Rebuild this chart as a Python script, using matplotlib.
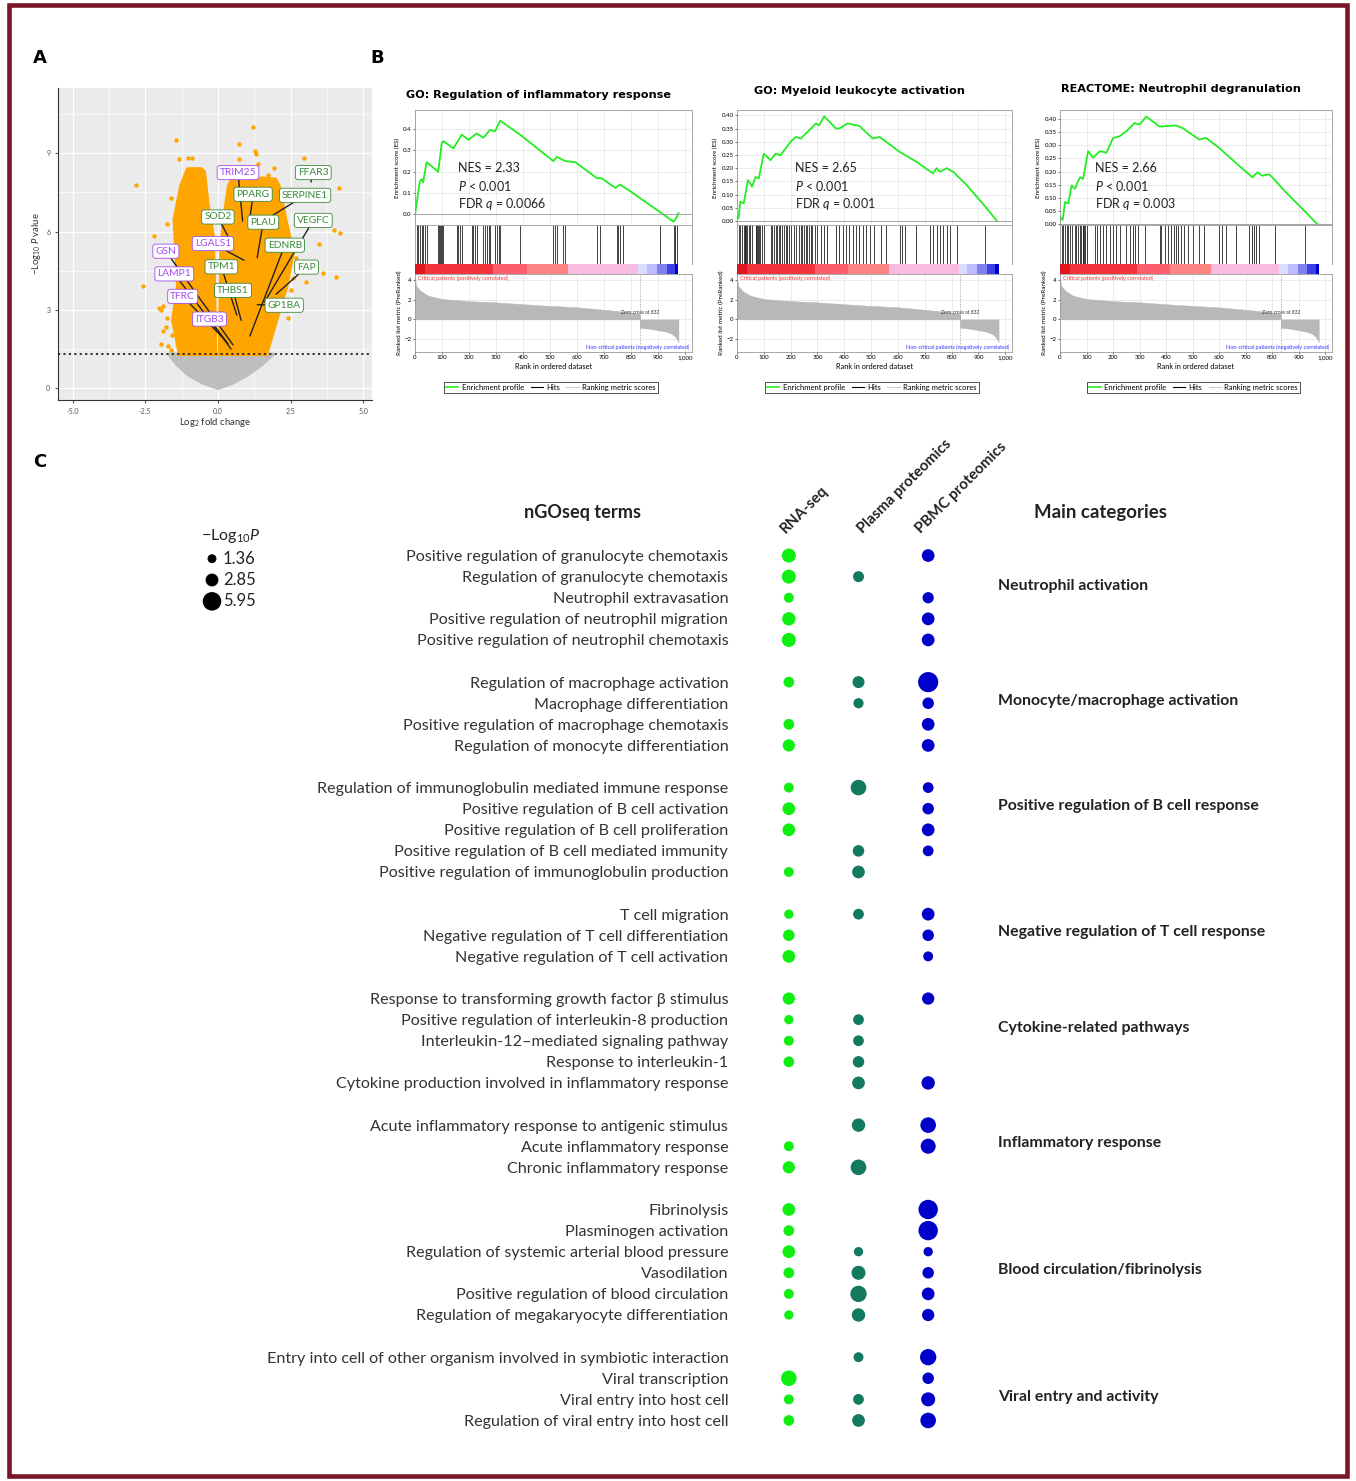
import matplotlib
matplotlib.use("Agg")
import matplotlib.pyplot as plt
from matplotlib.patches import Rectangle
from matplotlib.lines import Line2D
import numpy as np

plt.rcParams['font.family'] = ['Lato', 'DejaVu Sans']
plt.rcParams['mathtext.fontset'] = 'custom'
plt.rcParams['mathtext.rm'] = 'Lato'
plt.rcParams['mathtext.it'] = 'Lato:italic'

# ---------------- data: panel A (volcano) ----------------
left_lobe_fc = [-1.32, -1.55, -1.38, -1.44, -1.5, -1.27, -1.04, -0.58, -0.47, -0.35, -0.17, -0.12, -0.08]
left_lobe_p = [1.3, 2.62, 3.9, 5.2, 6.46, 7.75, 8.4, 8.4, 8.3, 7.1, 5.85, 3.9, 1.3]
right_lobe_fc = [0.06, 0.07, 0.1, 0.2, 0.37, 0.48, 1.0, 1.5, 1.98, 2.1, 2.33, 2.59, 2.36, 2.02, 1.67]
right_lobe_p = [1.3, 2.6, 5.2, 6.46, 7.75, 8.0, 7.9, 8.05, 8.0, 7.75, 6.46, 5.2, 3.9, 2.62, 1.3]
ns_fc = [-1.67, -1.4, -1.0, -0.5, 0.0, 0.5, 1.0, 1.5, 1.89]
ns_p = [1.3, 0.9, 0.5, 0.2, 0.0, 0.2, 0.5, 0.9, 1.3]
out_fc = [-2.82, -1.44, -1.35, -1.04, -0.89, -1.61, -1.75, -2.19, -2.57, -2.02, -1.9, -1.79,
          -1.96, -1.61, -1.58, 1.21, 0.71, 1.27, 1.32, 0.73, 1.38, 1.92, 1.73, 2.96, 4.15,
          4.2, 4.0, 3.46, 2.76, 3.63, 4.07, 3.03, 2.59, 2.36, 2.53, 2.13, 2.19, -1.96, -1.9,
          -1.75, -1.7, 2.7, 2.5, 2.4]
out_p = [7.78, 9.5, 8.77, 8.8, 8.8, 7.3, 6.3, 5.83, 3.9, 3.07, 3.14, 2.34, 1.7, 1.45, 2.05,
         9.99, 9.37, 9.09, 8.96, 8.77, 8.58, 8.45, 8.16, 8.8, 7.68, 5.95, 6.08, 5.54, 5.42,
         4.42, 4.26, 4.06, 4.23, 4.55, 3.78, 3.65, 4.16, 3.0, 2.2, 2.7, 1.6, 5.0, 3.2, 2.7]
gene_names = ['TRIM25', 'FFAR3', 'PPARG', 'SERPINE1', 'SOD2', 'PLAU', 'VEGFC', 'GSN',
              'LGALS1', 'EDNRB', 'TPM1', 'FAP', 'LAMP1', 'THBS1', 'TFRC', 'GP1BA', 'ITGB3']
gene_up = [False, True, True, True, True, True, True, False,
           False, True, True, True, False, True, False, True, False]
gene_fc = [0.85, 3.2, 1.1, 1.85, 0.4, 1.35, 1.6, 0.52, 0.9, 1.1, 0.65, 2.0, 0.35, 0.8, 0.2, 1.35, 0.45]
gene_p = [6.4, 7.9, 6.5, 6.6, 5.7, 5.0, 3.3, 1.66, 4.9, 2.0, 2.8, 3.6, 1.7, 2.6, 1.9, 3.2, 1.5]
label_fc = [0.69, 3.28, 1.21, 3.0, 0.0, 1.56, 3.28, -1.79, -0.17, 2.30, 0.12, 3.05, -1.5, 0.52, -1.21, 2.28, -0.29]
label_p = [8.26, 8.26, 7.43, 7.39, 6.56, 6.36, 6.43, 5.25, 5.54, 5.48, 4.65, 4.64, 4.38, 3.75, 3.52, 3.18, 2.65]

# ---------------- data: panel B (GSEA) ----------------
gsea_titles = ['GO: Regulation of inflammatory response', 'GO: Myeloid leukocyte activation',
               'REACTOME: Neutrophil degranulation']
gsea_nes = ['2.33', '2.65', '2.66']
gsea_fdr = ['0.0066', '0.001', '0.003']

es1_rank = [0, 6, 18, 25, 30, 43, 86, 99, 105, 142, 173, 198, 228, 253, 278, 296, 315, 389, 512,
            525, 556, 593, 673, 690, 741, 759, 796, 907, 932, 957, 969, 975]
es1_val = [0.0, 0.05, 0.155, 0.165, 0.15, 0.245, 0.2, 0.336, 0.344, 0.31, 0.374, 0.35, 0.38, 0.36,
           0.397, 0.39, 0.44, 0.374, 0.25, 0.27, 0.25, 0.245, 0.17, 0.17, 0.124, 0.14, 0.109, 0.01,
           -0.012, -0.035, -0.012, 0.006]
es2_rank = [0, 6, 12, 25, 41, 56, 69, 81, 100, 125, 144, 162, 200, 219, 237, 269, 294, 306, 325,
            369, 381, 412, 456, 506, 531, 606, 669, 731, 744, 756, 781, 806, 856, 931, 969]
es2_val = [0.016, 0.01, 0.073, 0.067, 0.155, 0.13, 0.167, 0.161, 0.255, 0.23, 0.255, 0.249, 0.30,
           0.318, 0.312, 0.343, 0.369, 0.362, 0.396, 0.35, 0.35, 0.369, 0.36, 0.312, 0.318, 0.262,
           0.224, 0.18, 0.2, 0.186, 0.2, 0.186, 0.136, 0.048, 0.0]
es3_rank = [0, 10, 19, 31, 44, 56, 75, 87, 106, 125, 150, 175, 200, 225, 250, 281, 300, 325, 375,
            437, 462, 525, 550, 600, 675, 725, 744, 762, 787, 800, 850, 925, 969]
es3_val = [0.028, 0.015, 0.084, 0.078, 0.147, 0.134, 0.178, 0.172, 0.278, 0.253, 0.278, 0.272,
           0.328, 0.335, 0.354, 0.385, 0.379, 0.41, 0.372, 0.376, 0.366, 0.322, 0.329, 0.29,
           0.222, 0.178, 0.197, 0.184, 0.19, 0.178, 0.122, 0.046, 0.0]
hits1 = [7, 12, 18, 25, 30, 37, 43, 86, 89, 92, 95, 99, 102, 155, 160, 167, 173, 210, 216, 222,
         228, 253, 259, 265, 272, 278, 296, 302, 309, 315, 389, 512, 519, 525, 548, 556, 673, 685,
         747, 753, 759, 771, 907, 957, 963, 969]
hits2 = [6, 12, 19, 25, 28, 31, 35, 38, 44, 50, 56, 69, 72, 75, 78, 81, 87, 94, 100, 125, 131,
         138, 144, 150, 156, 162, 169, 175, 181, 187, 194, 200, 212, 219, 231, 237, 244, 250, 256,
         262, 269, 275, 281, 290, 300, 312, 325, 337, 369, 381, 394, 406, 419, 431, 444, 456, 469,
         481, 494, 512, 537, 556, 606, 615, 625, 669, 719, 731, 744, 756, 769, 781, 794, 819, 925]
hits3 = [6, 12, 19, 25, 31, 38, 44, 56, 62, 69, 75, 81, 85, 88, 91, 94, 100, 131, 138, 150, 162,
         175, 187, 200, 212, 225, 250, 262, 275, 281, 294, 319, 375, 381, 394, 406, 419, 431, 437,
         444, 456, 469, 481, 500, 525, 544, 600, 612, 625, 662, 712, 725, 731, 737, 750, 812, 925]
# ranked list metric (shared by the three plots)
pos_rank = [0, 5, 20, 50, 100, 200, 300, 450, 600, 750, 832]
pos_val = [4.2, 3.4, 2.9, 2.4, 2.07, 1.85, 1.73, 1.45, 1.23, 0.85, 0.57]
neg_rank = [832, 870, 900, 930, 950, 965, 975]
neg_val = [-0.85, -0.95, -1.1, -1.25, -1.45, -1.8, -2.3]
zero_cross = 832
heat_edges = [0, 37, 290, 414, 568, 827, 858, 895, 932, 963, 975]
heat_colors = ['#e0161e', '#f2343c', '#fb5f6c', '#ff8585', '#f8bce0', '#dcdcff', '#bcbcff',
               '#7f7ff2', '#3f3fe6', '#0000cc']

# ---------------- data: panel C (dot plot) ----------------
categories = ['Neutrophil activation', 'Monocyte/macrophage activation',
              'Positive regulation of B cell response', 'Negative regulation of T cell response',
              'Cytokine-related pathways', 'Inflammatory response',
              'Blood circulation/fibrinolysis', 'Viral entry and activity']
group_sizes = [5, 4, 5, 3, 5, 3, 6, 4]
terms = [
    'Positive regulation of granulocyte chemotaxis', 'Regulation of granulocyte chemotaxis',
    'Neutrophil extravasation', 'Positive regulation of neutrophil migration',
    'Positive regulation of neutrophil chemotaxis',
    'Regulation of macrophage activation', 'Macrophage differentiation',
    'Positive regulation of macrophage chemotaxis', 'Regulation of monocyte differentiation',
    'Regulation of immunoglobulin mediated immune response', 'Positive regulation of B cell activation',
    'Positive regulation of B cell proliferation', 'Positive regulation of B cell mediated immunity',
    'Positive regulation of immunoglobulin production',
    'T cell migration', 'Negative regulation of T cell differentiation',
    'Negative regulation of T cell activation',
    'Response to transforming growth factor β stimulus', 'Positive regulation of interleukin-8 production',
    'Interleukin-12–mediated signaling pathway', 'Response to interleukin-1',
    'Cytokine production involved in inflammatory response',
    'Acute inflammatory response to antigenic stimulus', 'Acute inflammatory response',
    'Chronic inflammatory response',
    'Fibrinolysis', 'Plasminogen activation', 'Regulation of systemic arterial blood pressure',
    'Vasodilation', 'Positive regulation of blood circulation',
    'Regulation of megakaryocyte differentiation',
    'Entry into cell of other organism involved in symbiotic interaction', 'Viral transcription',
    'Viral entry into host cell', 'Regulation of viral entry into host cell']
nan = np.nan
rna_seq = [3.4, 3.4, 1.7, 3.1, 3.4, 2.0, nan, 2.0, 2.6, 1.7, 2.8, 2.8, nan, 1.7, 1.5, 2.3, 2.8,
           2.6, 1.5, 1.7, 2.0, nan, nan, 1.7, 2.6, 2.8, 2.0, 2.8, 2.0, 1.7, 1.5, nan, 4.2, 1.7, 2.0]
plasma = [nan, 2.1, nan, nan, nan, 2.5, 1.8, nan, nan, 4.2, nan, nan, 2.3, 2.8, 2.0, nan, nan,
          nan, 2.0, 2.0, 2.3, 2.8, 3.1, nan, 4.2, nan, nan, 1.5, 3.4, 4.6, 3.1, 1.7, nan, 2.0, 2.8]
pbmc = [2.8, nan, 2.2, 2.8, 2.8, 7.0, 2.3, 2.8, 2.8, 2.0, 2.3, 2.8, 2.0, nan, 2.8, 2.3, 1.7,
        2.6, nan, nan, nan, 3.1, 4.2, 3.9, nan, 6.5, 6.5, 1.5, 2.3, 2.8, 2.6, 4.6, 2.3, 3.4, 4.2]
datasets = ['RNA-seq', 'Plasma proteomics', 'PBMC proteomics']
dataset_colors = ['#11ee11', '#137a60', '#0000c8']
legend_vals = [1.36, 2.85, 5.95]

# ---------------- layout ----------------
W, H = 1356, 1481
fig = plt.figure(figsize=(W / 100, H / 100), dpi=100)


def box(x0, y0, x1, y1):
    return [x0 / W, 1 - y1 / H, (x1 - x0) / W, (y1 - y0) / H]


fig.patches.append(Rectangle((9 / W, 5 / H), 1 - 18 / W, 1 - 10 / H, transform=fig.transFigure,
                             fill=False, edgecolor='#7a1428', linewidth=3.3))
for lab, (px, py) in zip(['A', 'B', 'C'], [(40, 58), (377, 58), (40, 462)]):
    fig.text(px / W, 1 - py / H, lab, fontsize=13, fontweight='bold', ha='center', va='center',
             family='DejaVu Sans')

# ---------- panel A ----------
axA = fig.add_axes(box(58, 88, 372, 400))
axA.set_facecolor('#ebebeb')
axA.set_xlim(-5.5, 5.3)
axA.set_ylim(-0.45, 11.5)
axA.set_xticks([-5, -2.5, 0, 2.5, 5])
axA.set_xticklabels(['-5.0', '-2.5', '0.0', '2.5', '5.0'])
axA.set_yticks([0, 3, 6, 9])
axA.set_xticks([-3.75, -1.25, 1.25, 3.75], minor=True)
axA.set_yticks([1.5, 4.5, 7.5, 10.5], minor=True)
axA.grid(True, which='major', color='white', lw=0.9)
axA.grid(True, which='minor', color='white', lw=0.45)
axA.set_axisbelow(True)
axA.tick_params(which='minor', length=0)
axA.tick_params(which='major', labelsize=5, colors='#555555', length=2)
for s in ['top', 'right']:
    axA.spines[s].set_visible(False)
for s in ['left', 'bottom']:
    axA.spines[s].set_color('#333333')
axA.fill(ns_fc, ns_p, color='#bebebe', ec='#bebebe', lw=2.5, joinstyle='round', zorder=2)
axA.fill(left_lobe_fc, left_lobe_p, color='#ffa500', ec='#ffa500', lw=2.5, joinstyle='round', zorder=2)
axA.fill(right_lobe_fc, right_lobe_p, color='#ffa500', ec='#ffa500', lw=2.5, joinstyle='round', zorder=2)
axA.scatter(out_fc, out_p, s=10, color='#ffa500', lw=0, zorder=2)
axA.axhline(-np.log10(0.05), color='#222222', ls=(0, (1.2, 1.8)), lw=1.3, zorder=3)
for name, up, fc, p, lfc, lp in zip(gene_names, gene_up, gene_fc, gene_p, label_fc, label_p):
    col = '#3a8a3a' if up else '#a24cf0'
    axA.annotate(name, xy=(fc, p), xytext=(lfc, lp), fontsize=7.4, color=col, ha='center',
                 va='center', zorder=5,
                 bbox=dict(boxstyle='round,pad=0.25', fc='white', ec=col, lw=0.6),
                 arrowprops=dict(arrowstyle='-', color='#222222', lw=1.0, shrinkA=0, shrinkB=0))
axA.set_xlabel(r'Log$_2$ fold change', fontsize=6.8, labelpad=1, color='#333333')
axA.set_ylabel(r'$-$Log$_{10}$ $\it{P}$ value', fontsize=6.8, labelpad=2, color='#333333')

# ---------- panel B ----------
gsea_x = [(415, 692), (737, 1012), (1060, 1332)]
es_ranks = [es1_rank, es2_rank, es3_rank]
es_vals = [es1_val, es2_val, es3_val]
hits_all = [hits1, hits2, hits3]
es_ylims = [(-0.05, 0.49), (-0.015, 0.42), (-0.004, 0.435)]
es_ticks = [np.arange(0, 0.41, 0.1), np.arange(0, 0.41, 0.05), np.arange(0, 0.41, 0.05)]
es_fmt = ['{:.1f}', '{:.2f}', '{:.2f}']
stat_x = [0.155, 0.21, 0.13]
title_y = [95, 91, 89]
for i in range(3):
    x0, x1 = gsea_x[i]
    fig.text(((x0 + x1) / 2 - 15) / W, 1 - title_y[i] / H, gsea_titles[i], fontsize=8.1,
             fontweight='bold', ha='center', va='center', family='DejaVu Sans')
    axE = fig.add_axes(box(x0, 110, x1, 225))
    axE.plot(es_ranks[i], es_vals[i], color='#22ee22', lw=1.3)
    axE.axhline(0, color='#999999', lw=0.6)
    axE.set_xlim(0, 1025)
    axE.set_ylim(*es_ylims[i])
    axE.set_yticks(es_ticks[i])
    axE.set_yticklabels([es_fmt[i].format(v) for v in es_ticks[i]])
    axE.set_xticks(np.arange(0, 1001, 100))
    axE.set_xticklabels([])
    axE.grid(True, color='#e3e3e3', lw=0.5)
    axE.tick_params(labelsize=4.4, length=1.5, width=0.4, pad=1)
    axE.set_ylabel('Enrichment score (ES)', fontsize=4.5, labelpad=2)
    for s in axE.spines.values():
        s.set_color('#999999'); s.set_linewidth(0.6)
    axE.text(stat_x[i], 0.50, 'NES = ' + gsea_nes[i], transform=axE.transAxes, fontsize=9,
             va='center', color='#222222')
    axE.text(stat_x[i], 0.34, r'$\it{P}$ < 0.001', transform=axE.transAxes, fontsize=9,
             va='center', color='#222222')
    axE.text(stat_x[i], 0.18, r'FDR $\it{q}$ = ' + gsea_fdr[i], transform=axE.transAxes,
             fontsize=9, va='center', color='#222222')

    axH = fig.add_axes(box(x0, 225, x1, 264))
    axH.vlines(hits_all[i], 0, 1, color='#222222', lw=0.6)
    axH.set_xlim(0, 1025)
    axH.set_ylim(0, 1)
    axH.set_xticks([]); axH.set_yticks([])
    for s in axH.spines.values():
        s.set_color('#999999'); s.set_linewidth(0.6)

    axC_ = fig.add_axes(box(x0, 264, x1, 274))
    for a, b, c in zip(heat_edges[:-1], heat_edges[1:], heat_colors):
        axC_.axvspan(a, b, color=c, lw=0)
    axC_.set_xlim(0, 1025)
    axC_.set_xticks([]); axC_.set_yticks([])
    for s in axC_.spines.values():
        s.set_visible(False)

    axR = fig.add_axes(box(x0, 274, x1, 352))
    axR.fill_between(pos_rank, 0, pos_val, color='#b8b8b8', lw=0.3)
    axR.fill_between(neg_rank, 0, neg_val, color='#b8b8b8', lw=0.3)
    axR.axvline(zero_cross, color='#999999', lw=0.5, ls=(0, (2, 2)))
    axR.set_xlim(0, 1025)
    axR.set_ylim(-3.3, 4.6)
    axR.set_yticks([-2, 0, 2, 4])
    axR.set_xticks(np.arange(0, 1001, 100))
    axR.set_xticklabels([f'{v:,}' for v in range(0, 1001, 100)])
    axR.grid(True, color='#e3e3e3', lw=0.5)
    axR.set_axisbelow(True)
    axR.tick_params(labelsize=4.4, length=1.5, width=0.4, pad=1)
    for s in axR.spines.values():
        s.set_color('#999999'); s.set_linewidth(0.6)
    axR.set_ylabel('Ranked list metric (PreRanked)', fontsize=4.5, labelpad=2)
    axR.set_xlabel('Rank in ordered dataset', fontsize=5.3, labelpad=1.5)
    axR.text(0.01, 0.985, 'Critical patients (positively correlated)', transform=axR.transAxes,
             fontsize=4.0, color='#ff3333', va='top')
    axR.text(zero_cross, 0.75, 'Zero cross at ' + str(zero_cross), fontsize=3.6, ha='center',
             va='center', color='#333333')
    axR.text(0.99, 0.02, 'Non-critical patients (negatively correlated)', transform=axR.transAxes,
             fontsize=4.0, color='#3333ff', ha='right', va='bottom')
    handles = [Line2D([], [], color='#22ee22', lw=1.2), Line2D([], [], color='black', lw=0.8),
               Line2D([], [], color='#cccccc', lw=0.8)]
    leg = axR.legend(handles, ['Enrichment profile', 'Hits', 'Ranking metric scores'],
                     loc='upper center', bbox_to_anchor=(0.49, -0.33), ncol=3, fontsize=5.5,
                     handlelength=1.6, columnspacing=0.9, handletextpad=0.4, borderpad=0.3,
                     fancybox=False, framealpha=1)
    leg.get_frame().set_edgecolor('#333333')
    leg.get_frame().set_linewidth(0.6)

# ---------- panel C ----------
slots = []
cat_slots = []
cat_offsets = [1.45, 0.9, 0.85, 0.85, 1.4, 0.85, 2.85, 1.9]
pos = 0
for g, n in enumerate(group_sizes):
    cat_slots.append(pos + cat_offsets[g])
    slots.extend(range(pos, pos + n))
    pos += n + 1

axD = fig.add_axes(box(754, 545, 963, 1431))
axD.set_xlim(-0.5, 2.5)
axD.set_ylim(41.5, -0.5)
for j, vals in enumerate([rna_seq, plasma, pbmc]):
    v = np.array(vals, dtype=float)
    ok = ~np.isnan(v)
    axD.scatter(np.full(ok.sum(), j), np.array(slots)[ok], s=30 * v[ok],
                color=dataset_colors[j], lw=0, clip_on=False)
axD.set_xticks([])
axD.set_yticks(slots)
axD.set_yticklabels(terms, fontsize=11.6, color='#333333')
axD.tick_params(axis='y', length=0, pad=18.5)
for s in axD.spines.values():
    s.set_visible(False)
for name, cs in zip(categories, cat_slots):
    axD.text(3.0, cs, name, fontsize=11.4, fontweight='bold', ha='left', va='center',
             color='#222222')
hdr_dx = [-0.02, 0.1, -0.07]
for j, name in enumerate(datasets):
    axD.text(j + hdr_dx[j], -0.95, name, rotation=45, rotation_mode='anchor', ha='left',
             va='bottom', fontsize=10.8, fontweight='bold', color='#222222')
fig.text(583 / W, 1 - 512 / H, 'nGOseq terms', fontsize=13.1, fontweight='bold', ha='center',
         va='center', color='#222222')
fig.text(1101 / W, 1 - 512 / H, 'Main categories', fontsize=13.4, fontweight='bold', ha='center',
         va='center', color='#222222')

axL = fig.add_axes(box(200, 548, 275, 612))
axL.set_xlim(0, 75)
axL.set_ylim(2.5, -0.5)
axL.axis('off')
axL.scatter([12] * len(legend_vals), range(len(legend_vals)), s=[30 * v for v in legend_vals],
            color='black', lw=0, clip_on=False)
for k, v in enumerate(legend_vals):
    axL.text(23, k, f'{v:.2f}', fontsize=12, va='center', ha='left', color='#222222')
axL.text(31, -1.05, r'$-$Log$_{10}$$\it{P}$', fontsize=11.5, ha='center', va='center',
         color='#222222')

fig.savefig('out.png', dpi=100)
